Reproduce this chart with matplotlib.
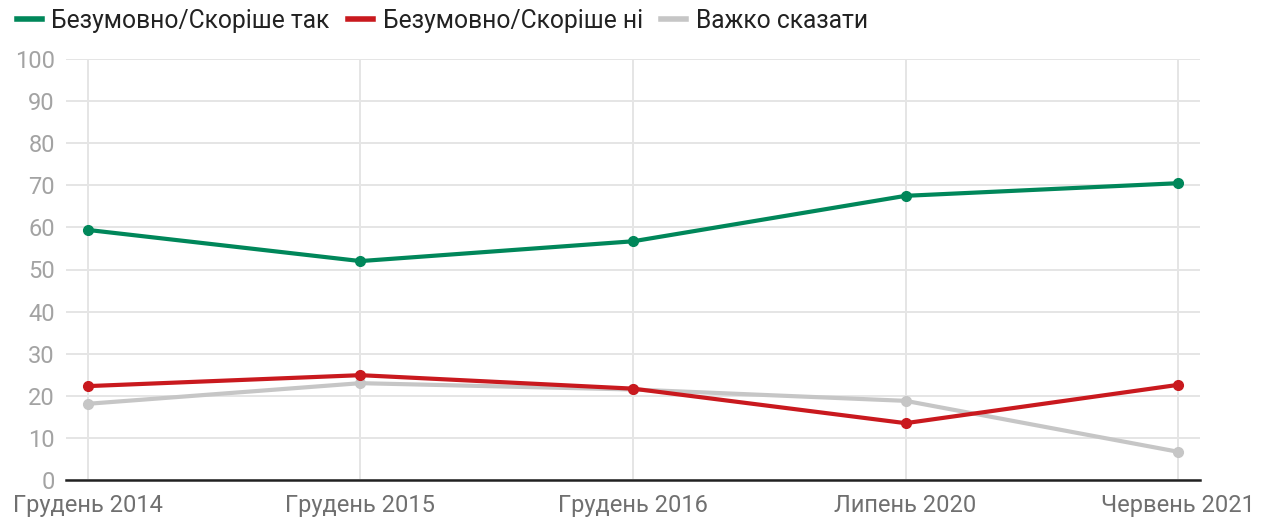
import matplotlib.pyplot as plt
from matplotlib.lines import Line2D

plt.rcParams['font.family'] = ['Roboto', 'DejaVu Sans']

periods = ["Грудень 2014", "Грудень 2015", "Грудень 2016", "Липень 2020", "Червень 2021"]
series_names = ["Безумовно/Скоріше так", "Безумовно/Скоріше ні", "Важко сказати"]
yes_vals = [59.4, 52.0, 56.7, 67.5, 70.5]
no_vals = [22.3, 24.9, 21.7, 13.5, 22.6]
hard_vals = [18.1, 23.0, 21.5, 18.8, 6.7]
colors = ["#00875a", "#c9191e", "#c6c6c6"]

W, H = 1270, 521
fig = plt.figure(figsize=(W / 100, H / 100), dpi=100)
ax = fig.add_axes([66 / W, (H - 480) / H, (1200 - 66) / W, (480 - 59) / H])

x = list(range(len(periods)))
# grey first so the red line sits on top
for vals, c, z in [(hard_vals, colors[2], 3), (no_vals, colors[1], 4), (yes_vals, colors[0], 5)]:
    ax.plot(x, vals, color=c, lw=3, marker="o", ms=7, zorder=z, solid_capstyle="round")

ax.set_ylim(0, 100)
ax.set_xlim(-0.08, 4.08)
ax.set_yticks(range(0, 101, 10))
ax.set_xticks(x)
ax.set_xticklabels(periods)
ax.grid(True, color="#e5e5e5", lw=1.4, zorder=0)
ax.set_axisbelow(True)
for s in ["top", "right", "left"]:
    ax.spines[s].set_visible(False)
ax.spines["bottom"].set_color("#222222")
ax.spines["bottom"].set_linewidth(1.8)
ax.spines["bottom"].set_zorder(6)
ax.tick_params(axis="y", length=0, pad=8, labelsize=17, labelcolor="#a3a3a3")
ax.tick_params(axis="x", length=0, pad=10, labelsize=17, labelcolor="#707070")

handles = [Line2D([0], [0], color=c, lw=4) for c in colors]
fig.legend(handles, series_names, loc="upper left", bbox_to_anchor=(-0.004, 1.026),
           ncol=3, frameon=False, fontsize=17.7, handlelength=1.0, handletextpad=0.4,
           columnspacing=0.75, labelcolor="#222222")

fig.savefig("out.png", dpi=100)
